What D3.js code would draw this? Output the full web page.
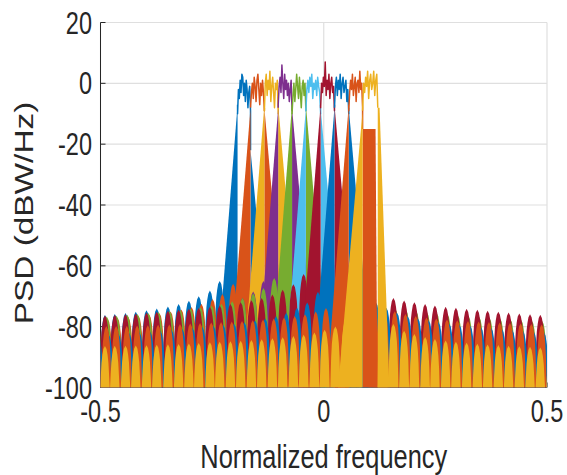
<!DOCTYPE html>
<html><head><meta charset="utf-8">
<script src="https://cdn.jsdelivr.net/npm/d3@7"></script>
<style>
body{margin:0;background:#fff}
svg{display:block}
text{font-family:"Liberation Sans",Arial,Helvetica,sans-serif;fill:#262626}
</style>
</head><body>
<svg id="chart" width="567" height="475"></svg>
<script>
// ---------- data ----------
const channelColors = ["#0072BD","#D95319","#EDB120","#7E2F8E","#77AC30","#4DBEEE","#A2142F","#0072BD","#D95319","#EDB120"];
// passband edges of the 10 channels (normalized frequency)
const bandEdges = [-0.193,-0.164,-0.133,-0.102,-0.071,-0.040,-0.007,0.024,0.056,0.087,0.121];
// in-band PSD samples (dBW/Hz), evenly across each passband
const passbandDb = [
  [-10,-2,-5,1,-3,3,2,-4,0,-6,1,-2,-8,-3,-1,-9],
  [-8,-3,0,-5,2,-1,-6,1,3,-2,-7,0,-4,1,-3,-9],
  [-9,0,3,-4,1,-2,4,-6,-1,2,-3,-8,0,-2,1,-10],
  [-7,-1,2,-3,6,0,-5,3,-2,1,-4,0,-6,-2,1,-9],
  [-10,-4,0,-6,-2,3,-1,-5,2,-3,-8,-1,1,-4,0,-9],
  [-9,-2,1,-3,2,-1,3,-5,0,-2,1,-4,2,-1,-3,-10],
  [-8,0,-3,2,-1,7,-4,1,-2,3,-5,0,2,-3,-1,-9],
  [-8,-1,2,-4,1,-2,3,-5,0,2,-3,-1,1,-6,-2,-10],
  [-9,-3,1,-2,3,-4,-1,2,-6,0,1,-3,4,-2,0,-8],
  [-9,0,-3,2,-1,4,-5,1,3,-2,0,4,-4,1,3,-8]
];
// transition skirts: top level (dB) and widths (normalized frequency) at top and at -100 dB
const skirtTopDbLeft   = [-7,-8,-7,-8,-7,-8,-7,-8,-7,-9];
const skirtTopDbRight  = [-22,-8,-7,-8,-7,-8,-7,-8,-15,-8];
const skirtTopWLeft    = [0,0,0,0,0,0,0,0,0,0];
const skirtTopWRight   = [0,0,0,0,0,0,0,0,0.029,0.004];
const skirtBotWLeft    = [0.05,0.05,0.05,0.05,0.05,0.05,0.05,0.05,0.05,0.055];
const skirtBotWRight   = [0.05,0.055,0.055,0.055,0.055,0.055,0.055,0.055,0.033,0.026];
// sidelobe comb: lobe centres
const lobeCentersLow = [-0.513,-0.490,-0.468,-0.444,-0.421,-0.397,-0.374,-0.349,-0.325,-0.302,-0.280,-0.255,-0.233,-0.209,-0.186,-0.162,-0.139,-0.115,-0.092,-0.068,-0.045,-0.021,0.002,0.026,0.049,0.073,0.096];
const lobeCentersHigh = [-0.151,-0.127,-0.104,-0.080,-0.057,-0.033,-0.009,0.014,0.038,0.061,0.085,0.109,0.132,0.156,0.180,0.203,0.227,0.249,0.273,0.296,0.320,0.344,0.367,0.391,0.414,0.438,0.462,0.485,0.509];
const lobePeriod = 0.0235;
// far-off sidelobe level per channel, low side / high side (dB)
const lobeFloorLow  = [-79,-80,-85,-80,-78,-82,-77,-83,-80,-86.5];
const lobeFloorHigh = [-83,-81,-86,-81,-78.5,-82,-77,-83,-80,-88];
const lobeGain  = [1,1,1,1,1,1,1,1,0.5,0.6];
const lobeShift = [0,0.006,0,0.004,0.004,0,0,0.008,0.003,0];
// rise of sidelobe peaks above the far level vs distance from the band edge
const riseDistance = [0.01,0.02,0.04,0.06,0.08,0.10,0.13,0.16,0.20,0.25,0.30,0.40,0.50,0.65];
const riseDb       = [22,17,14,11,9.5,8,6.5,5.5,4.5,3.5,2.8,1.5,0.5,0];
const xTicks = [-0.5,0,0.5];
const yTicks = [-100,-80,-60,-40,-20,0,20];

// ---------- drawing ----------
const svg = d3.select("#chart");
const x = d3.scaleLinear().domain([-0.5,0.5]).range([100.5,547]);
const y = d3.scaleLinear().domain([-100,20]).range([387.5,22.5]);
const rise = d3.scaleLinear().domain(riseDistance).range(riseDb).clamp(true);
const FLOOR = -100;

svg.append("defs").append("clipPath").attr("id","plot")
  .append("rect").attr("x",x(-0.5)).attr("y",y(20)).attr("width",x(0.5)-x(-0.5)).attr("height",y(-100)-y(20));

const grid = svg.append("g");
grid.selectAll("line.gy").data(yTicks).join("line")
  .attr("x1",x(-0.5)).attr("x2",x(0.5)).attr("y1",d=>y(d)).attr("y2",d=>y(d))
  .attr("stroke","#dfdfdf").attr("stroke-width",1.2);
grid.selectAll("line.gx").data(xTicks).join("line")
  .attr("y1",y(20)).attr("y2",y(-100)).attr("x1",d=>x(d)).attr("x2",d=>x(d))
  .attr("stroke","#dfdfdf").attr("stroke-width",1.2);

// axis lines + inward ticks
const ax = svg.append("g").attr("stroke","#262626").attr("stroke-width",1);
ax.append("line").attr("x1",x(-0.5)).attr("x2",x(-0.5)).attr("y1",y(20)).attr("y2",y(-100));
ax.append("line").attr("x1",x(-0.5)).attr("x2",x(0.5)).attr("y1",y(-100)).attr("y2",y(-100));
ax.selectAll("line.ty").data(yTicks).join("line")
  .attr("x1",x(-0.5)).attr("x2",x(-0.5)+5).attr("y1",d=>y(d)).attr("y2",d=>y(d));
ax.selectAll("line.tx").data(xTicks).join("line")
  .attr("x1",d=>x(d)).attr("x2",d=>x(d)).attr("y1",y(-100)).attr("y2",y(-100)-5);

const plot = svg.append("g").attr("clip-path","url(#plot)");
const lobeU    = [-0.5,-0.48,-0.45,-0.4,-0.33,-0.25,-0.15,0,0.15,0.25,0.33,0.4,0.45,0.48,0.5];
const lobeDrop = [null,-24,-16,-10,-5.5,-3,-1,0,-1,-3,-5.5,-10,-16,-24,null];
const area = d3.area().x(d=>x(d[0])).y0(y(FLOOR)).y1(d=>y(d[1]));
const line = d3.line().x(d=>x(d[0])).y(d=>y(d[1]));

function lobePoints(centers, peakOf){
  const pts = [];
  centers.forEach(c=>{
    const pk = peakOf(c);
    lobeU.forEach((u,k)=>{
      pts.push([c+u*lobePeriod, lobeDrop[k]===null?FLOOR:Math.max(FLOOR,pk+lobeDrop[k])]);
    });
  });
  return pts;
}

channelColors.forEach((col,i)=>{
  const L = bandEdges[i], R = bandEdges[i+1];
  const g = plot.append("g");
  const lows = lobeCentersLow.map(c=>c+lobeShift[i]).filter(c=>c < L-0.008);
  const highs = lobeCentersHigh.map(c=>c+lobeShift[i]).filter(c=>c > R+0.008);
  g.append("path").attr("fill",col)
    .attr("d",area(lobePoints(lows,c=>lobeFloorLow[i]+lobeGain[i]*rise(L-c))));
  g.append("path").attr("fill",col)
    .attr("d",area(lobePoints(highs,c=>lobeFloorHigh[i]+lobeGain[i]*rise(c-R))));
  // skirts
  g.append("path").attr("fill",col)
    .attr("d",line([[L,FLOOR],[L,skirtTopDbLeft[i]],[L-skirtTopWLeft[i],skirtTopDbLeft[i]],[L-skirtBotWLeft[i],FLOOR]])+"Z");
  g.append("path").attr("fill",col)
    .attr("d",line([[R,FLOOR],[R,skirtTopDbRight[i]],[R+skirtTopWRight[i],skirtTopDbRight[i]],[R+skirtBotWRight[i],FLOOR]])+"Z");
  // passband
  const n = passbandDb[i].length;
  const pb = [[L,skirtTopDbLeft[i]]].concat(passbandDb[i].map((v,k)=>[L+(R-L)*k/(n-1),v])).concat([[R,skirtTopDbRight[i]]]);
  g.append("path").attr("fill","none").attr("stroke",col).attr("stroke-width",1.5)
    .attr("stroke-linejoin","round").attr("d",line(pb));
});

// tick labels
const SY = 1.31;
svg.selectAll("text.yl").data(yTicks).join("text")
  .attr("transform",d=>`translate(92,${y(d)}) scale(1,${SY})`)
  .attr("dy","0.36em").attr("text-anchor","end").attr("font-size",23.5)
  .text(d=>d);
svg.selectAll("text.xl").data(xTicks).join("text")
  .attr("transform",d=>`translate(${x(d)},422) scale(1,${SY})`)
  .attr("text-anchor","middle").attr("font-size",23.5)
  .text(d=>d);
svg.append("text").attr("transform",`translate(${x(0)},468) scale(1,${SY})`)
  .attr("text-anchor","middle").attr("font-size",25.4).text("Normalized frequency");
svg.append("text").attr("transform",`translate(33,213) scale(1,${SY}) rotate(-90)`)
  .attr("text-anchor","middle").attr("font-size",25.5).text("PSD (dBW/Hz)");
</script>
</body></html>
